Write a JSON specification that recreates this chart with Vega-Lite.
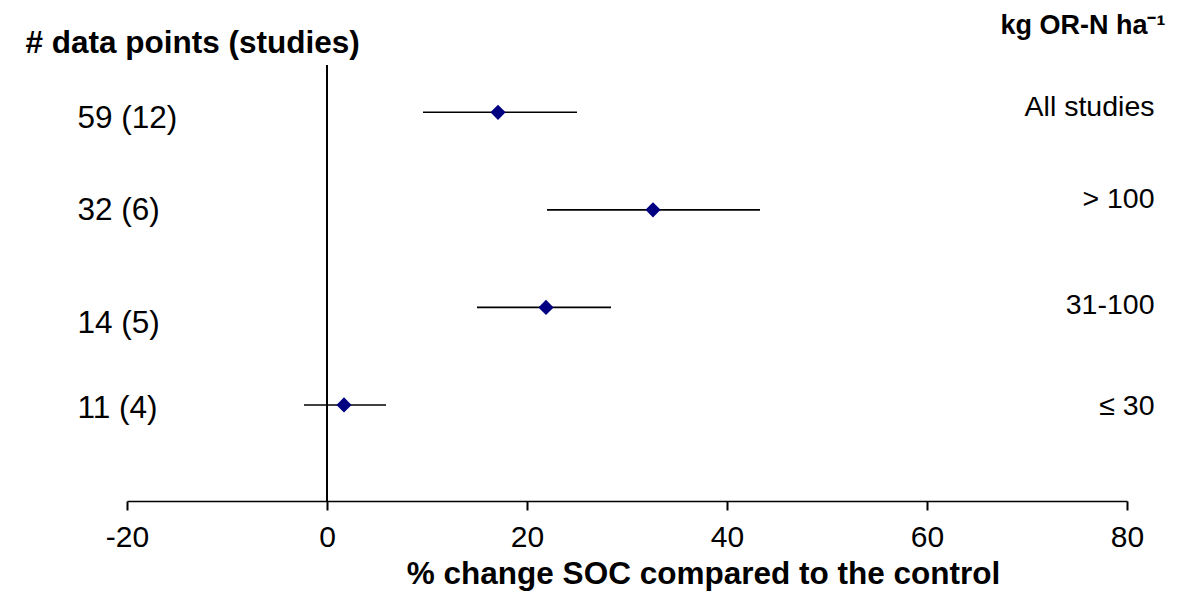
{
  "$schema": "https://vega.github.io/schema/vega-lite/v6.json",
  "width": 1000,
  "height": 436,
  "autosize": {"type": "none"},
  "padding": {"left": 127, "top": 65, "right": 51, "bottom": 92},
  "background": "white",
  "config": {
    "font": "Liberation Sans",
    "view": {"stroke": null},
    "axis": {"grid": false}
  },
  "data": {
    "values": [
      {"group": "All studies", "n": "59 (12)", "mean": 17.1, "lo": 9.6, "hi": 25.0},
      {"group": "> 100", "n": "32 (6)", "mean": 32.6, "lo": 22.0, "hi": 43.3},
      {"group": "31-100", "n": "14 (5)", "mean": 21.9, "lo": 15.0, "hi": 28.4},
      {"group": "≤ 30", "n": "11 (4)", "mean": 1.7, "lo": -2.3, "hi": 5.9}
    ]
  },
  "layer": [
    {
      "mark": {"type": "rule", "color": "black", "strokeWidth": 1.5},
      "encoding": {
        "x": {
          "datum": 0,
          "type": "quantitative",
          "scale": {"domain": [-20, 80], "nice": false, "zero": false},
          "axis": {
            "orient": "bottom",
            "values": [-20, 0, 20, 40, 60, 80],
            "labelExpr": "'' + datum.value",
            "domainColor": "black",
            "domainWidth": 1.5,
            "tickColor": "black",
            "tickWidth": 2,
            "tickSize": 9,
            "labelFontSize": 30,
            "labelColor": "black",
            "labelPadding": 12,
            "labelFlush": false,
            "title": "% change SOC compared to the control",
            "titleFontSize": 31.5,
            "titleFontWeight": "bold",
            "titleColor": "black",
            "titleX": 576,
            "titleY": 82,
            "titleAlign": "center",
            "titleBaseline": "alphabetic"
          }
        }
      }
    },
    {
      "mark": {"type": "rule", "color": "black", "strokeWidth": 1.6},
      "encoding": {
        "x": {"field": "lo", "type": "quantitative"},
        "x2": {"field": "hi"},
        "y": {
          "field": "n",
          "type": "nominal",
          "sort": null,
          "scale": {"type": "point", "padding": 0.735, "align": 0.33},
          "axis": {
            "orient": "left",
            "domain": false,
            "ticks": false,
            "labelAlign": "left",
            "labelBaseline": "middle",
            "labelPadding": 50,
            "labelFontSize": 31.5,
            "labelColor": "black",
            "labelOffset": {
              "condition": [
                {"test": "datum.value === '59 (12)'", "value": 6},
                {"test": "datum.value === '32 (6)'", "value": 1},
                {"test": "datum.value === '14 (5)'", "value": 16}
              ],
              "value": 4
            },
            "title": "# data points (studies)",
            "titleAngle": 0,
            "titleAlign": "left",
            "titleBaseline": "middle",
            "titleX": -102,
            "titleY": -22,
            "titleFontSize": 31.5,
            "titleFontWeight": "bold",
            "titleColor": "black"
          }
        }
      }
    },
    {
      "mark": {"type": "point", "shape": "diamond", "filled": true, "color": "#000080", "size": 230, "opacity": 1},
      "encoding": {
        "x": {"field": "mean", "type": "quantitative"},
        "y": {
          "field": "group",
          "type": "nominal",
          "sort": null,
          "scale": {"type": "point", "padding": 0.735, "align": 0.33},
          "axis": {
            "orient": "right",
            "domain": false,
            "ticks": false,
            "labelAlign": "right",
            "labelBaseline": "middle",
            "labelPadding": 27,
            "labelFontSize": 28.5,
            "labelColor": "black",
            "labelOffset": {
              "condition": [
                {"test": "datum.value === 'All studies'", "value": -6},
                {"test": "datum.value === '> 100'", "value": -11},
                {"test": "datum.value === '31-100'", "value": -3}
              ],
              "value": 1
            },
            "title": "kg OR-N ha⁻¹",
            "titleAngle": 0,
            "titleAlign": "right",
            "titleBaseline": "middle",
            "titleX": 38,
            "titleY": -40,
            "titleFontSize": 27,
            "titleFontWeight": "bold",
            "titleColor": "black"
          }
        }
      }
    }
  ],
  "resolve": {"scale": {"y": "independent"}}
}
